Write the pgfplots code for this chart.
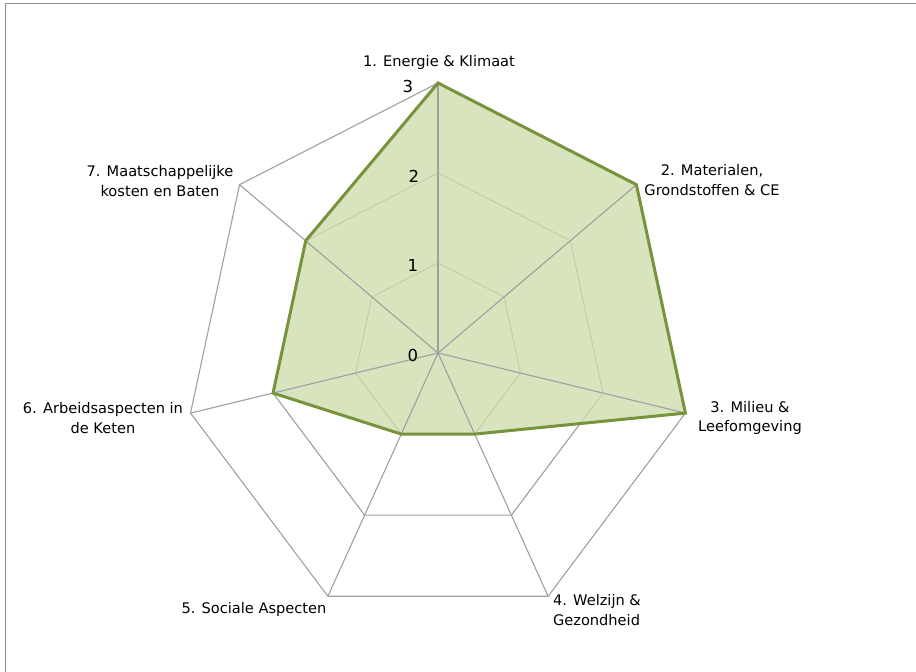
\documentclass[border=0pt]{standalone}
\usepackage{pgfplots}
\pgfplotsset{compat=1.18}
\usepackage{fontspec}
\setmainfont{DejaVu Sans}
\definecolor{gridc}{RGB}{160,160,160}
\definecolor{framec}{RGB}{140,140,140}
\definecolor{fillc}{RGB}{205,221,173}
\definecolor{linec}{RGB}{119,147,60}
\begin{document}
\begin{tikzpicture}
\path[use as bounding box] (0,0) rectangle (916bp,672bp);
\begin{axis}[
  scale only axis, width=916bp, height=672bp,
  xmin=-5.177, xmax=5.650, ymin=-3.544, ymax=3.922,
  hide axis, clip=false,
  every axis plot/.append style={no marks},
]
% grid heptagons (under the fill)
\addplot[gridc, line width=1.1bp, data cs=polar] coordinates {(90,1) (38.571,1) (-12.857,1) (-64.286,1) (-115.714,1) (-167.143,1) (141.429,1)} --cycle;
\addplot[gridc, line width=1.1bp, data cs=polar] coordinates {(90,2) (38.571,2) (-12.857,2) (-64.286,2) (-115.714,2) (-167.143,2) (141.429,2)} --cycle;
\addplot[gridc, line width=1.1bp, data cs=polar] coordinates {(90,3) (38.571,3) (-12.857,3) (-64.286,3) (-115.714,3) (-167.143,3) (141.429,3)} --cycle;
% data area
\addplot[fill=fillc, fill opacity=0.8, draw=none, data cs=polar] coordinates {(90,3) (38.571,3) (-12.857,3) (-64.286,1) (-115.714,1) (-167.143,2) (141.429,2)} --cycle;
% spokes
\addplot[gridc, line width=1.1bp, data cs=polar] coordinates {(90,0) (90,3)};
\addplot[gridc, line width=1.1bp, data cs=polar] coordinates {(38.571,0) (38.571,3)};
\addplot[gridc, line width=1.1bp, data cs=polar] coordinates {(-12.857,0) (-12.857,3)};
\addplot[gridc, line width=1.1bp, data cs=polar] coordinates {(-64.286,0) (-64.286,3)};
\addplot[gridc, line width=1.1bp, data cs=polar] coordinates {(-115.714,0) (-115.714,3)};
\addplot[gridc, line width=1.1bp, data cs=polar] coordinates {(-167.143,0) (-167.143,3)};
\addplot[gridc, line width=1.1bp, data cs=polar] coordinates {(141.429,0) (141.429,3)};
% data outline
\addplot[draw=linec, line width=3bp, line join=miter, data cs=polar] coordinates {(90,3) (38.571,3) (-12.857,3) (-64.286,1) (-115.714,1) (-167.143,2) (141.429,2)} --cycle;
% frame
\draw[framec, line width=1.3bp] (axis cs:-5.115,-3.6) -- (axis cs:-5.115,3.883) -- (axis cs:5.7,3.883);
% tick labels
\begin{scope}[every node/.style={font=\fontsize{16.5bp}{18bp}\selectfont, inner sep=0pt}]
\node at (axis cs:-0.355,2.956) {3};
\node at (axis cs:-0.284,1.967) {2};
\node at (axis cs:-0.296,0.967) {1};
\node at (axis cs:-0.296,-0.033) {0};
\end{scope}
% category labels
\begin{scope}[every node/.style={font=\fontsize{14.6bp}{19.5bp}\selectfont, align=center, inner sep=0pt, text=black}]
\node at (axis cs:0.012,3.233) {1. Energie \& Klimaat};
\node at (axis cs:3.239,1.922) {2. Materialen,\\Grondstoffen \& CE};
\node at (axis cs:3.688,-0.722) {3. Milieu \&\\Leefomgeving};
\node[align=left] at (axis cs:1.879,-2.856) {4. Welzijn \&\\Gezondheid};
\node at (axis cs:-2.175,-2.844) {5. Sociale Aspecten};
\node at (axis cs:-3.960,-0.722) {6. Arbeidsaspecten in\\de Keten};
\node at (axis cs:-3.286,1.911) {7. Maatschappelijke\\kosten en Baten};
\end{scope}
\end{axis}
\end{tikzpicture}
\end{document}
